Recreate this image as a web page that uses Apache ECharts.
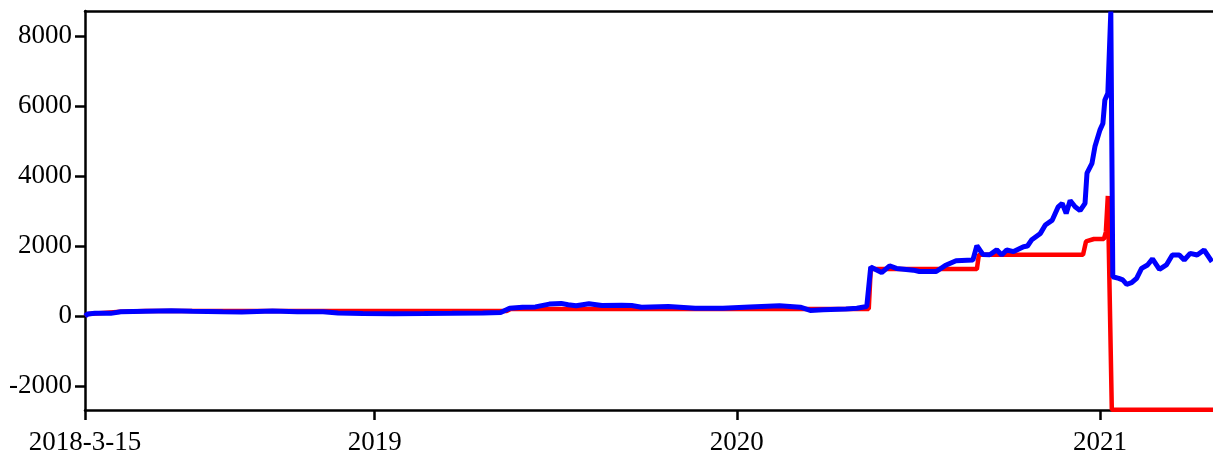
<!DOCTYPE html>
<html>
<head>
<meta charset="utf-8">
<script src="https://cdn.jsdelivr.net/npm/echarts@6/dist/echarts.min.js"></script>
<style>
html,body{margin:0;padding:0;background:#fff;}
#chart{width:1213px;height:457px;}
</style>
</head>
<body>
<div id="chart"></div>
<script>
// ---- data ----
const redDates = ['2018-03-15','2018-03-18','2018-04-20','2018-05-15','2019-05-14','2019-05-18','2020-05-13','2020-05-15','2020-08-30','2020-09-01','2020-12-15','2020-12-18','2020-12-26','2021-01-05','2021-01-07','2021-01-09','2021-01-13','2021-04-25'];
const redValues = [0,60,120,140,140,200,200,1340,1340,1750,1750,2130,2200,2200,2400,3430,-2680,-2680];

const blueDates = ['2018-03-15','2018-03-18','2018-03-25','2018-04-10','2018-04-20','2018-05-15','2018-06-10','2018-07-01','2018-08-01','2018-08-20','2018-09-20','2018-10-15','2018-11-10','2018-11-25','2018-12-20','2019-01-20','2019-02-20','2019-03-20','2019-04-20','2019-05-08','2019-05-17','2019-05-30','2019-06-12','2019-06-26','2019-07-08','2019-07-15','2019-07-23','2019-08-05','2019-08-18','2019-09-07','2019-09-17','2019-09-27','2019-10-24','2019-11-20','2019-12-18','2020-01-14','2020-02-13','2020-03-05','2020-03-15','2020-03-28','2020-04-20','2020-05-01','2020-05-11','2020-05-13','2020-05-15','2020-05-26','2020-06-03','2020-06-10','2020-06-27','2020-07-03','2020-07-20','2020-07-29','2020-08-09','2020-08-26','2020-08-30','2020-09-05','2020-09-12','2020-09-19','2020-09-24','2020-09-29','2020-10-06','2020-10-16','2020-10-20','2020-10-24','2020-11-02','2020-11-07','2020-11-14','2020-11-20','2020-11-24','2020-11-28','2020-12-02','2020-12-07','2020-12-12','2020-12-17','2020-12-19','2020-12-24','2020-12-27','2021-01-01','2021-01-04','2021-01-06','2021-01-09','2021-01-12','2021-01-14','2021-01-20','2021-01-24','2021-01-28','2021-02-02','2021-02-07','2021-02-12','2021-02-18','2021-02-23','2021-03-02','2021-03-09','2021-03-15','2021-03-22','2021-03-27','2021-04-02','2021-04-09','2021-04-16','2021-04-24'];
const blueValues = [0,60,80,75,120,135,150,135,120,115,140,120,120,85,70,65,70,75,85,100,220,250,260,340,360,320,290,350,300,310,300,250,270,220,220,260,290,250,160,180,200,220,270,290,1400,1240,1430,1360,1310,1270,1270,1440,1580,1600,2010,1760,1750,1890,1743,1886,1840,1980,2000,2170,2360,2600,2740,3120,3220,2930,3300,3120,3010,3220,4080,4360,4840,5310,5500,6170,6360,8700,1120,1076,1030,905,950,1076,1360,1457,1630,1333,1457,1743,1743,1600,1790,1743,1886,1550];

const xTickDates = ['2018-03-15','2019-01-01','2020-01-01','2021-01-01'];
const xTickLabels = ['2018-3-15','2019','2020','2021'];
const yTicks = [-2000,0,2000,4000,6000,8000];
const xMin = '2018-03-15', xMax = '2021-04-25';
const yMin = -2686, yMax = 8714;

// ---- helpers ----
function ts(s){const p=s.split('-').map(Number);return Date.UTC(p[0],p[1]-1,p[2]);}
const xTickTs = xTickDates.map(ts);
const redData = redDates.map((d,i)=>[ts(d),redValues[i]]);
const blueData = blueDates.map((d,i)=>[ts(d),blueValues[i]]);
const font = '"Liberation Serif","DejaVu Serif",serif';

const chart = echarts.init(document.getElementById('chart'));
chart.setOption({
  animation:false,
  backgroundColor:'#fff',
  grid:{left:85,right:0,top:11,bottom:47,containLabel:false},
  xAxis:[{
    type:'value', min:ts(xMin), max:ts(xMax), scale:true,
    axisLine:{show:true,onZero:false,lineStyle:{color:'#000',width:2.5}},
    axisTick:{show:true,length:10,lineStyle:{color:'#000',width:2.5},customValues:xTickTs},
    axisLabel:{show:true,color:'#000',fontFamily:font,fontSize:27,margin:19,
      customValues:xTickTs,
      formatter:function(v){const i=xTickTs.indexOf(v);return i>=0?xTickLabels[i]:'';}},
    splitLine:{show:false}
  },{
    type:'value', position:'top', min:ts(xMin), max:ts(xMax), scale:true,
    axisLine:{show:true,onZero:false,lineStyle:{color:'#000',width:2.5}},
    axisTick:{show:false}, axisLabel:{show:false}, splitLine:{show:false}
  }],
  yAxis:{
    type:'value', min:yMin, max:yMax,
    axisLine:{show:true,onZero:false,lineStyle:{color:'#000',width:2.5}},
    axisTick:{show:true,length:10,lineStyle:{color:'#000',width:2.5},customValues:yTicks},
    axisLabel:{color:'#000',fontFamily:font,fontSize:27,margin:13,customValues:yTicks,
      formatter:function(v){return String(v);}},
    splitLine:{show:false}
  },
  series:[{
    type:'line', data:redData, showSymbol:false, symbol:'none', clip:false,
    lineStyle:{color:'#ff0000',width:4.5}, z:3
  },{
    type:'line', data:blueData, showSymbol:false, symbol:'none', clip:false,
    lineStyle:{color:'#0000ff',width:5}, z:4
  }]
});
</script>
</body>
</html>
